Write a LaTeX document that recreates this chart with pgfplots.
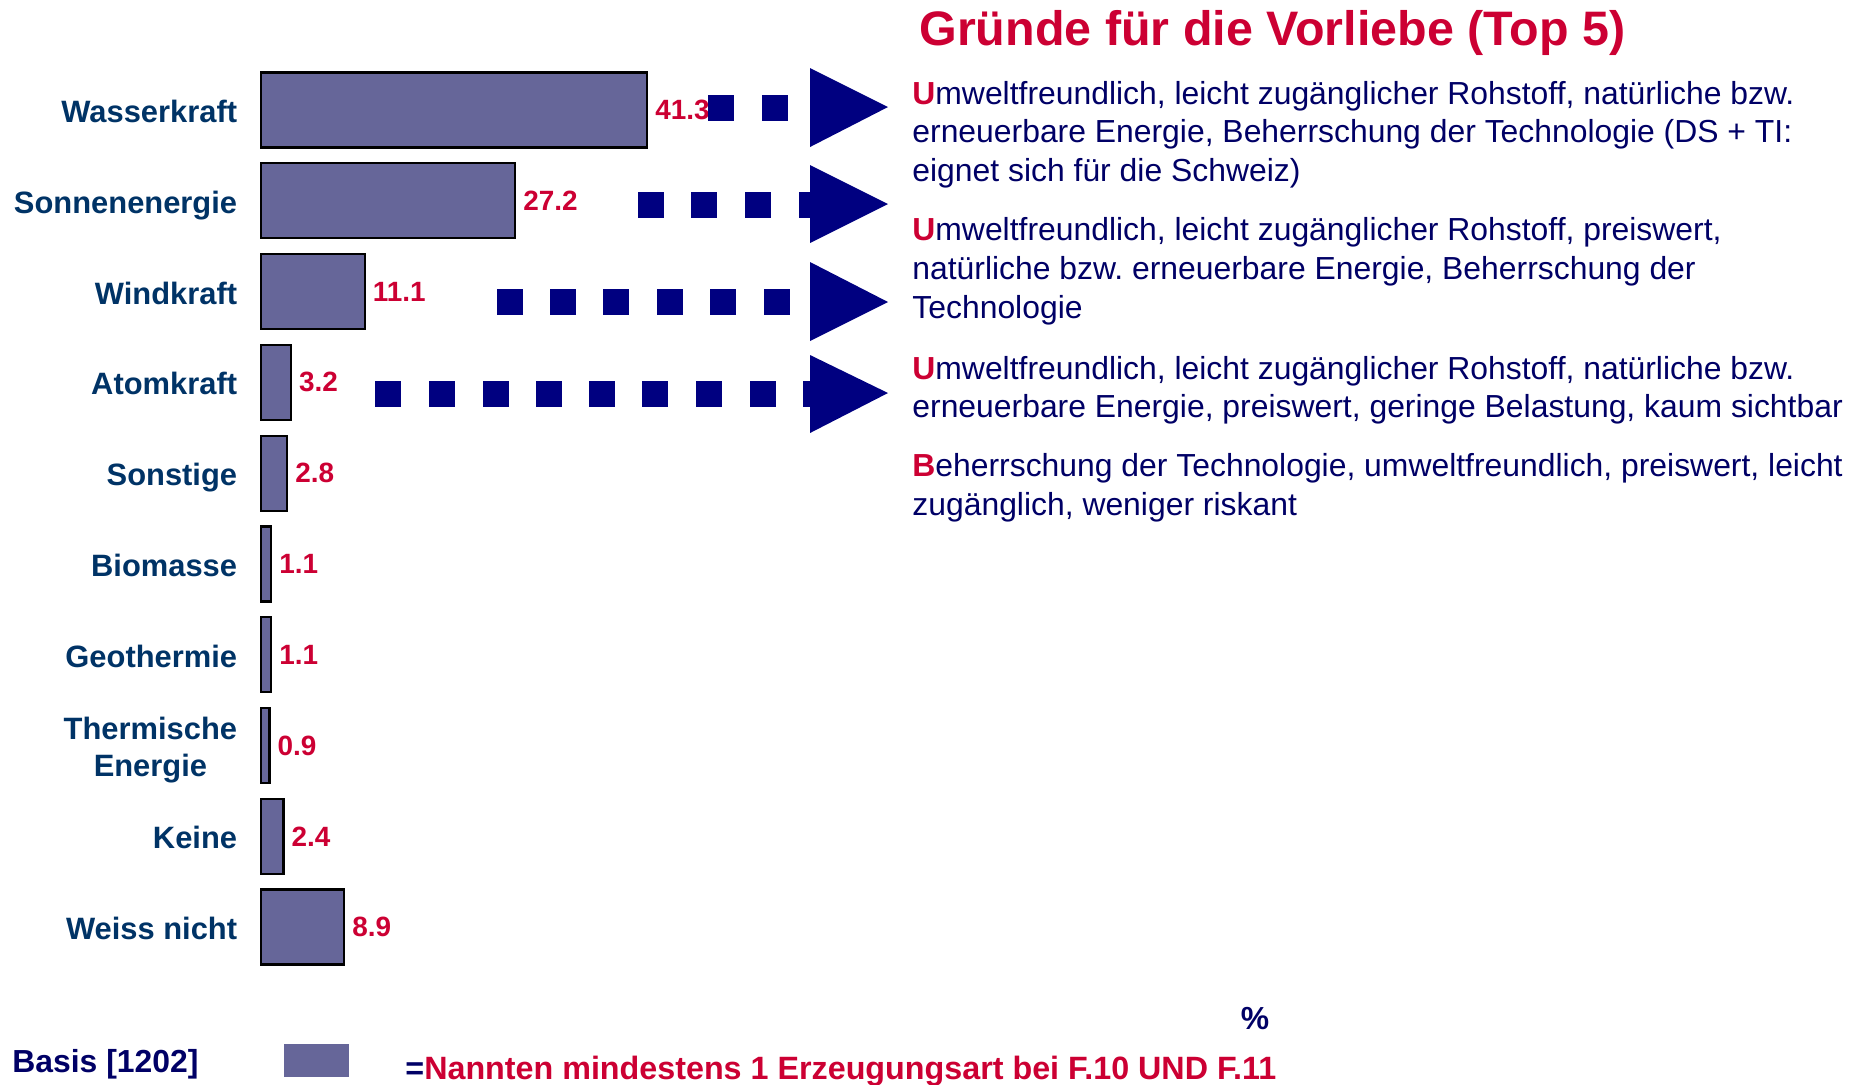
\documentclass[border=0pt]{standalone}
\usepackage{pgfplots}
\pgfplotsset{compat=1.18}
\usepackage{fontspec}
\setmainfont{Liberation Sans}
\frenchspacing
\definecolor{barfill}{HTML}{666699}
\definecolor{arrownavy}{HTML}{000080}
\definecolor{txtblue}{HTML}{000066}
\definecolor{catblue}{HTML}{003366}
\definecolor{crim}{HTML}{CC0033}
\begin{document}
\frenchspacing
\begin{tikzpicture}
\begin{axis}[
  at={(130.5bp,-486.2bp)}, anchor=south west,
  scale only axis, width=467.5bp, height=453.9bp,
  xbar, bar width=0.826,
  xmin=0, xmax=100, ymin=-0.5, ymax=9.5,
  y dir=reverse, enlargelimits=false, clip=false,
  axis line style={draw=none}, major tick style={draw=none},
  xtick=\empty, ytick={0,...,9},
  yticklabels={Wasserkraft,Sonnenenergie,Windkraft,Atomkraft,Sonstige,Biomasse,Geothermie,{Thermische\\Energie},Keine,Weiss nicht},
  yticklabel style={anchor=east, align=center, inner sep=0pt, xshift=-7.5bp, yshift=-0.7bp,
    text depth=0pt, font=\bfseries\fontsize{15.5}{18.5}\selectfont, text=catblue},
  point meta=x,
  nodes near coords={\pgfmathprintnumber[fixed,fixed zerofill,precision=1,assume math mode=true]{\pgfplotspointmeta}},
  every node near coord/.append style={anchor=west, inner sep=0pt, xshift=3.5bp,
    font=\bfseries\fontsize{14}{16}\selectfont, text=crim},
]
\addplot[fill=barfill, draw=black, line width=1.1bp] coordinates {
  (41.3,0) (27.2,1) (11.1,2) (3.2,3) (2.8,4) (1.1,5) (1.1,6) (0.9,7) (2.4,8) (8.9,9)
};
\end{axis}
\begin{scope}[x=0.5bp,y=-0.5bp]
  % dotted arrows
  \foreach \xx in {708,762} \fill[arrownavy] (\xx,95) rectangle ++(26,26);
  \foreach \xx in {638,691,745,799} \fill[arrownavy] (\xx,192) rectangle ++(26,26);
  \foreach \xx in {497,550,603,657,710,764} \fill[arrownavy] (\xx,289) rectangle ++(26,26);
  \foreach \xx in {375,429,483,536,589,642,696,750,803} \fill[arrownavy] (\xx,381) rectangle ++(26,26);
  \fill[arrownavy] (810,68) -- (888,107) -- (810,147) -- cycle;
  \fill[arrownavy] (810,165) -- (888,204) -- (810,243) -- cycle;
  \fill[arrownavy] (810,262) -- (888,302) -- (810,341) -- cycle;
  \fill[arrownavy] (810,355) -- (888,393) -- (810,433) -- cycle;
  % title
  \node[anchor=base west, inner sep=0pt, font=\bfseries\fontsize{24.3}{28}\selectfont, text=crim] at (919,45) {Gründe für die Vorliebe (Top 5)};
  % reasons
  \tikzset{reason/.style={anchor=base west, inner sep=0pt, font=\fontsize{16}{19}\selectfont, text=txtblue}}
  \node[reason] at (912,104) {\textcolor{crim}{\bfseries U}mweltfreundlich, leicht zugänglicher Rohstoff, natürliche bzw.};
  \node[reason] at (912,142.5) {erneuerbare Energie, Beherrschung der Technologie (DS + TI:};
  \node[reason] at (912,181) {eignet sich für die Schweiz)};
  \node[reason] at (912,240) {\textcolor{crim}{\bfseries U}mweltfreundlich, leicht zugänglicher Rohstoff, preiswert,};
  \node[reason] at (912,279) {natürliche bzw.\ erneuerbare Energie, Beherrschung der};
  \node[reason] at (912,318.5) {Technologie};
  \node[reason] at (912,379) {\textcolor{crim}{\bfseries U}mweltfreundlich, leicht zugänglicher Rohstoff, natürliche bzw.};
  \node[reason] at (912,417.5) {erneuerbare Energie, preiswert, geringe Belastung, kaum sichtbar};
  \node[reason] at (912,476.5) {\textcolor{crim}{\bfseries B}eherrschung der Technologie, umweltfreundlich, preiswert, leicht};
  \node[reason] at (912,515) {zugänglich, weniger riskant};
  % footer
  \node[anchor=base west, inner sep=0pt, font=\bfseries\fontsize{16}{19}\selectfont, text=txtblue] at (12,1072) {Basis [1202]};
  \fill[barfill] (284,1044) rectangle (349,1077);
  \node[anchor=base west, inner sep=0pt, font=\bfseries\fontsize{16.2}{19}\selectfont, text=crim] at (405,1079) {\textcolor{txtblue}{=}Nannten mindestens 1 Erzeugungsart bei F.10 UND F.11};
  \node[anchor=base, inner sep=0pt, font=\bfseries\fontsize{16}{19}\selectfont, text=txtblue] at (1255,1029.5) {\%};
  \pgfresetboundingbox
  \path[use as bounding box] (0,0) rectangle (1869,1084);
\end{scope}
\end{tikzpicture}
\end{document}
